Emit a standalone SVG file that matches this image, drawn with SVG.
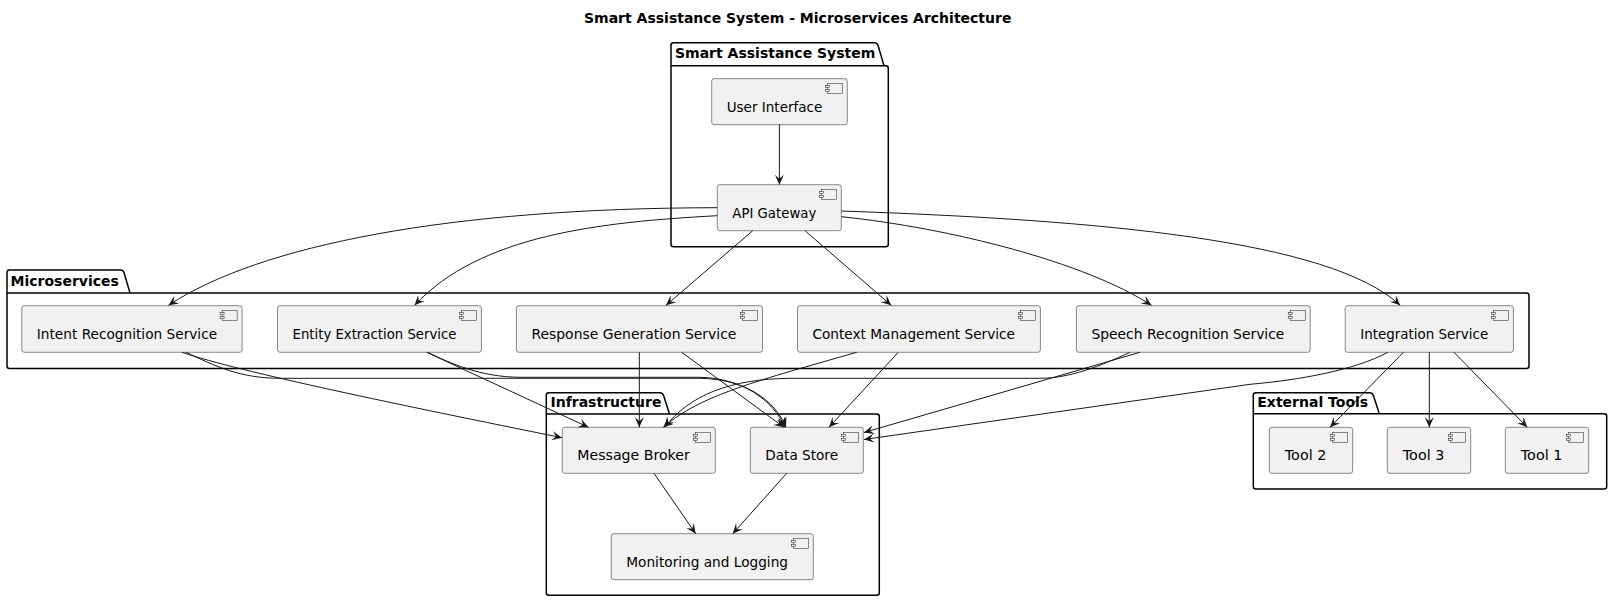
<svg xmlns="http://www.w3.org/2000/svg" width="1611" height="601" viewBox="0 0 1611 601">
<defs>
<marker id="ah" viewBox="-11 -6 12 12" refX="0" refY="0" markerWidth="12" markerHeight="12" markerUnits="userSpaceOnUse" orient="auto">
<path d="M0,0 L-10,-4.5 L-6,0 L-10,4.5 Z" fill="#181818"/>
</marker>
</defs>
<style>
.pkg{fill:none;stroke:#000;stroke-width:1.5}
.comp{fill:#F1F1F1;stroke:#181818;stroke-width:0.5}
.lbl{font-family:"DejaVu Sans",sans-serif;font-size:14px;fill:#000}
.pl{font-family:"DejaVu Sans",sans-serif;font-size:14px;font-weight:bold;fill:#000}
.e{fill:none;stroke:#181818;stroke-width:1;marker-end:url(#ah)}
</style>
<rect width="1611" height="601" fill="#fff"/>
<text class="pl" x="584" y="22.5">Smart Assistance System - Microservices Architecture</text>

<g id="pkg-sas">
<path class="pkg" d="M671,65.7 L671,45.2 Q671,42.7 673.5,42.7 L874.5,42.7 Q877,42.7 878,45.2 L884,65.7 L885.8,65.7 Q888.3,65.7 888.3,68.2 L888.3,244.2 Q888.3,246.7 885.8,246.7 L673.5,246.7 Q671,246.7 671,244.2 Z M671,65.7 L884,65.7"/>
<text class="pl" x="675" y="57.5">Smart Assistance System</text>
</g>
<g id="pkg-micro">
<path class="pkg" d="M7,293 L7,272.5 Q7,270 9.5,270 L120.5,270 Q123,270 124,272.5 L130,293 L1526.5,293 Q1529,293 1529,295.5 L1529,366 Q1529,368.5 1526.5,368.5 L9.5,368.5 Q7,368.5 7,366 Z M7,293 L130,293"/>
<text class="pl" x="10.5" y="285.5">Microservices</text>
</g>
<g id="pkg-infra">
<path class="pkg" d="M546.3,414 L546.3,395.2 Q546.3,392.7 548.8,392.7 L660,392.7 Q662.5,392.7 663.5,395.2 L669.5,414 L876.8,414 Q879.3,414 879.3,416.5 L879.3,592.8 Q879.3,595.3 876.8,595.3 L548.8,595.3 Q546.3,595.3 546.3,592.8 Z M546.3,414 L669.5,414"/>
<text class="pl" x="550.5" y="406.5">Infrastructure</text>
</g>
<g id="pkg-ext">
<path class="pkg" d="M1253.3,413.7 L1253.3,395.2 Q1253.3,392.7 1255.8,392.7 L1369.8,392.7 Q1372.3,392.7 1373.3,395.2 L1379.3,413.7 L1604.2,413.7 Q1606.7,413.7 1606.7,416.2 L1606.7,486.5 Q1606.7,489 1604.2,489 L1255.8,489 Q1253.3,489 1253.3,486.5 Z M1253.3,413.7 L1379.3,413.7"/>
<text class="pl" x="1257.3" y="406.5">External Tools</text>
</g>

<g id="ui">
<rect class="comp" x="711.7" y="78.7" width="135.6" height="46" rx="2.5"/>
<rect class="comp" x="827.3" y="83.7" width="15" height="10"/><rect class="comp" x="825.3" y="85.7" width="4" height="2"/><rect class="comp" x="825.3" y="89.7" width="4" height="2"/>
<text class="lbl" x="726.7" y="111.7" textLength="95.6" lengthAdjust="spacingAndGlyphs">User Interface</text>
</g>
<g id="api">
<rect class="comp" x="717.3" y="184.7" width="124" height="46" rx="2.5"/>
<rect class="comp" x="821.3" y="189.7" width="15" height="10"/><rect class="comp" x="819.3" y="191.7" width="4" height="2"/><rect class="comp" x="819.3" y="195.7" width="4" height="2"/>
<text class="lbl" x="732.3" y="217.7" textLength="84" lengthAdjust="spacingAndGlyphs">API Gateway</text>
</g>
<g id="intent">
<rect class="comp" x="21.8" y="305.7" width="220.3" height="46.6" rx="2.5"/>
<rect class="comp" x="222.1" y="310.7" width="15" height="10"/><rect class="comp" x="220.1" y="312.7" width="4" height="2"/><rect class="comp" x="220.1" y="316.7" width="4" height="2"/>
<text class="lbl" x="36.8" y="338.7" textLength="180.3" lengthAdjust="spacingAndGlyphs">Intent Recognition Service</text>
</g>
<g id="entity">
<rect class="comp" x="277.5" y="305.7" width="203.9" height="46.6" rx="2.5"/>
<rect class="comp" x="461.4" y="310.7" width="15" height="10"/><rect class="comp" x="459.4" y="312.7" width="4" height="2"/><rect class="comp" x="459.4" y="316.7" width="4" height="2"/>
<text class="lbl" x="292.5" y="338.7" textLength="163.9" lengthAdjust="spacingAndGlyphs">Entity Extraction Service</text>
</g>
<g id="response">
<rect class="comp" x="516.4" y="305.7" width="246.1" height="46.6" rx="2.5"/>
<rect class="comp" x="742.5" y="310.7" width="15" height="10"/><rect class="comp" x="740.5" y="312.7" width="4" height="2"/><rect class="comp" x="740.5" y="316.7" width="4" height="2"/>
<text class="lbl" x="531.4" y="338.7" textLength="205" lengthAdjust="spacingAndGlyphs">Response Generation Service</text>
</g>
<g id="context">
<rect class="comp" x="797.5" y="305.7" width="242.9" height="46.6" rx="2.5"/>
<rect class="comp" x="1020.4" y="310.7" width="15" height="10"/><rect class="comp" x="1018.4" y="312.7" width="4" height="2"/><rect class="comp" x="1018.4" y="316.7" width="4" height="2"/>
<text class="lbl" x="812.5" y="338.7" textLength="202.4" lengthAdjust="spacingAndGlyphs">Context Management Service</text>
</g>
<g id="speech">
<rect class="comp" x="1076.4" y="305.7" width="233.8" height="46.6" rx="2.5"/>
<rect class="comp" x="1290.2" y="310.7" width="15" height="10"/><rect class="comp" x="1288.2" y="312.7" width="4" height="2"/><rect class="comp" x="1288.2" y="316.7" width="4" height="2"/>
<text class="lbl" x="1091.4" y="338.7" textLength="193" lengthAdjust="spacingAndGlyphs">Speech Recognition Service</text>
</g>
<g id="integration">
<rect class="comp" x="1345.2" y="305.7" width="168.2" height="46.6" rx="2.5"/>
<rect class="comp" x="1493.4" y="310.7" width="15" height="10"/><rect class="comp" x="1491.4" y="312.7" width="4" height="2"/><rect class="comp" x="1491.4" y="316.7" width="4" height="2"/>
<text class="lbl" x="1360.2" y="338.7" textLength="128" lengthAdjust="spacingAndGlyphs">Integration Service</text>
</g>
<g id="broker">
<rect class="comp" x="562.3" y="427.3" width="153" height="46" rx="2.5"/>
<rect class="comp" x="695.3" y="432.3" width="15" height="10"/><rect class="comp" x="693.3" y="434.3" width="4" height="2"/><rect class="comp" x="693.3" y="438.3" width="4" height="2"/>
<text class="lbl" x="577.3" y="460.3" textLength="112.5" lengthAdjust="spacingAndGlyphs">Message Broker</text>
</g>
<g id="datastore">
<rect class="comp" x="750.3" y="427.3" width="113" height="46" rx="2.5"/>
<rect class="comp" x="843.3" y="432.3" width="15" height="10"/><rect class="comp" x="841.3" y="434.3" width="4" height="2"/><rect class="comp" x="841.3" y="438.3" width="4" height="2"/>
<text class="lbl" x="765.3" y="460.3" textLength="72.7" lengthAdjust="spacingAndGlyphs">Data Store</text>
</g>
<g id="monitoring">
<rect class="comp" x="611.3" y="533.7" width="202" height="46" rx="2.5"/>
<rect class="comp" x="793.3" y="538.7" width="15" height="10"/><rect class="comp" x="791.3" y="540.7" width="4" height="2"/><rect class="comp" x="791.3" y="544.7" width="4" height="2"/>
<text class="lbl" x="626.3" y="566.7" textLength="161.7" lengthAdjust="spacingAndGlyphs">Monitoring and Logging</text>
</g>
<g id="tool2">
<rect class="comp" x="1269.3" y="427.3" width="83.4" height="46" rx="2.5"/>
<rect class="comp" x="1332.7" y="432.3" width="15" height="10"/><rect class="comp" x="1330.7" y="434.3" width="4" height="2"/><rect class="comp" x="1330.7" y="438.3" width="4" height="2"/>
<text class="lbl" x="1284.8" y="460.3" textLength="41.5" lengthAdjust="spacingAndGlyphs">Tool 2</text>
</g>
<g id="tool3">
<rect class="comp" x="1387.3" y="427.3" width="83.4" height="46" rx="2.5"/>
<rect class="comp" x="1450.7" y="432.3" width="15" height="10"/><rect class="comp" x="1448.7" y="434.3" width="4" height="2"/><rect class="comp" x="1448.7" y="438.3" width="4" height="2"/>
<text class="lbl" x="1402.8" y="460.3" textLength="41.5" lengthAdjust="spacingAndGlyphs">Tool 3</text>
</g>
<g id="tool1">
<rect class="comp" x="1505.3" y="427.3" width="83.4" height="46" rx="2.5"/>
<rect class="comp" x="1568.7" y="432.3" width="15" height="10"/><rect class="comp" x="1566.7" y="434.3" width="4" height="2"/><rect class="comp" x="1566.7" y="438.3" width="4" height="2"/>
<text class="lbl" x="1520.8" y="460.3" textLength="41.5" lengthAdjust="spacingAndGlyphs">Tool 1</text>
</g>

<g id="connectors">
<path class="e" d="M779.4,124.3 L779.4,184.7"/>
<path class="e" d="M717.3,207.7 C450,208 260,245 168.5,305.3"/>
<path class="e" d="M717.3,215.7 C600,222 480,235 414.6,305.3"/>
<path class="e" d="M752.7,230.7 L666,305.3"/>
<path class="e" d="M805,230.7 L891.2,305.3"/>
<path class="e" d="M841.3,216.7 C950,228 1085,262 1151.5,305.3"/>
<path class="e" d="M841.3,211 C1100,220 1330,240 1400.2,305.3"/>
<path class="e" d="M182,352.3 C240,372 400,405 562,437.7"/>
<path class="e" d="M186,352.3 C215,366 240,378.3 280,378.3 L700,378.3 C745,379 775,400 786,427.3"/>
<path class="e" d="M426.7,352.3 L588.5,427.3"/>
<path class="e" d="M427.5,352.3 C450,363 480,377 520,377.3 L700,377.3 C742,378 773,400 785,427.3"/>
<path class="e" d="M639.3,352.3 L639.3,427.3"/>
<path class="e" d="M681.7,352.3 L784,427.3"/>
<path class="e" d="M856.7,352.3 C760,380 700,395 663.3,427.3"/>
<path class="e" d="M898.3,352.3 L829,427.3"/>
<path class="e" d="M1130,352.3 C1100,366 1070,378.3 1040,378.3 L790,378.3 C730,379 690,395 664.5,427.3"/>
<path class="e" d="M1140,352.3 L864,432.5"/>
<path class="e" d="M1387.8,352.3 C1355,370 1300,380 1250,384.3 L864,439.5"/>
<path class="e" d="M1403.4,352.3 L1330,427.3"/>
<path class="e" d="M1429.3,352.3 L1429.3,427.3"/>
<path class="e" d="M1454,352.3 L1527.3,427.3"/>
<path class="e" d="M654,473.3 L695.7,533.7"/>
<path class="e" d="M786.7,473.3 L732.7,533.7"/>
</g>
</svg>
